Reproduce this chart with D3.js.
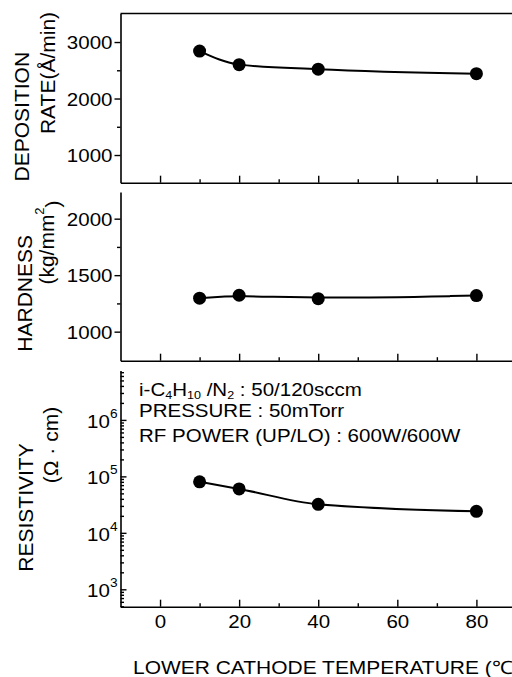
<!DOCTYPE html>
<html><head><meta charset="utf-8">
<script src="https://cdn.jsdelivr.net/npm/d3@7"></script>
<style>
body{margin:0;background:#fff}
svg{display:block}
text{font-family:"Liberation Sans",Arial,Helvetica,sans-serif;fill:#000}
</style>
</head><body>
<svg id="c" width="512" height="677"></svg>
<script>
// ---- data ----
const temps = [10, 20, 40, 80];
const depRate = [2840, 2600, 2520, 2440];
const hardness = [1296, 1322, 1292, 1319];
const resistivity = [8.0e4, 6.0e4, 3.2e4, 2.4e4];
const xTickValues = [0, 20, 40, 60, 80];
const xTickLabels = ["0", "20", "40", "60", "80"];
const xMinorValues = [10, 30, 50, 70];
const depTicks = [1000, 2000, 3000];
const depMinor = [1500, 2500];
const hardTicks = [1000, 1500, 2000];
const hardMinor = [1250, 1750];
const resTicks = [1e3, 1e4, 1e5, 1e6];
const resExp = ["3", "4", "5", "6"];
const notes = ["PRESSURE : 50mTorr", "RF POWER (UP/LO) : 600W/600W"];
const xTitle = "LOWER CATHODE TEMPERATURE (\u2103";

const svg = d3.select("#c");
const K = 1.14; // horizontal stretch of scanned lettering
const FS = 18;

const x = d3.scaleLinear().domain([-10, 89]).range([120.5, 512]);

function stretch(sel, k) {
  sel.each(function () {
    const t = d3.select(this);
    const xv = +t.attr("x") || 0;
    t.attr("x", xv / k).attr("transform", `scale(${k},1)`);
  });
}

function styleAxis(g) {
  g.select(".domain").attr("stroke", "#000").attr("stroke-width", 1.6);
  g.selectAll(".tick line").attr("stroke", "#000").attr("stroke-width", 1.4);
}

function panel(cfg) {
  const g = svg.append("g");
  const y = cfg.y;
  // bottom axis (ticks inward)
  const bx = g.append("g").attr("transform", `translate(0,${cfg.bottom})`)
    .call(d3.axisBottom(x).tickValues(xTickValues).tickSizeInner(-7).tickSizeOuter(0)
      .tickPadding(9).tickFormat((d, i) => cfg.xLabels ? xTickLabels[i] : ""));
  styleAxis(bx);
  bx.selectAll("text").attr("font-size", FS).attr("font-family", "'Liberation Sans',Arial,sans-serif");
  stretch(bx.selectAll("text"), K);
  const bxm = g.append("g").attr("transform", `translate(0,${cfg.bottom})`)
    .call(d3.axisBottom(x).tickValues(xMinorValues).tickSizeInner(-3.5).tickSizeOuter(0).tickFormat(""));
  styleAxis(bxm);
  bxm.select(".domain").remove();

  // left axis
  const ly = g.append("g").attr("transform", `translate(${x.range()[0]},0)`);
  if (cfg.log) {
    ly.call(d3.axisLeft(y).tickValues(resTicks).tickSizeInner(-6).tickSizeOuter(0).tickPadding(3).tickFormat(""));
    ly.selectAll(".tick").each(function (d, i) {
      const t = d3.select(this).append("text").attr("x", -3 / K).attr("dy", "0.42em")
        .attr("text-anchor", "end").attr("font-size", FS).attr("transform", `scale(${K},1)`);
      t.append("tspan").text("10");
      t.append("tspan").attr("font-size", 12).attr("dy", "-0.85em").text(resExp[i]);
    });
    const minor = [];
    for (let e = 2; e <= 6; e++) for (let m = 2; m <= 9; m++) {
      const v = m * Math.pow(10, e);
      if (v >= y.domain()[0] && v <= y.domain()[1]) minor.push(v);
    }
    const lym = g.append("g").attr("transform", `translate(${x.range()[0]},0)`)
      .call(d3.axisLeft(y).tickValues(minor).tickSizeInner(-3.5).tickSizeOuter(0).tickFormat(""));
    styleAxis(lym);
    lym.select(".domain").remove();
  } else {
    ly.call(d3.axisLeft(y).tickValues(cfg.ticks).tickSizeInner(6).tickSizeOuter(0).tickPadding(2).tickFormat(d3.format("d")));
    ly.selectAll("text").attr("font-size", FS).attr("dy", "0.36em");
    stretch(ly.selectAll("text"), K);
    const lym = g.append("g").attr("transform", `translate(${x.range()[0]},0)`)
      .call(d3.axisLeft(y).tickValues(cfg.minor).tickSizeInner(3.5).tickSizeOuter(0).tickFormat(""));
    styleAxis(lym);
    lym.select(".domain").remove();
  }
  styleAxis(ly);

  // curve
  const pts = temps.map((t, i) => [t, cfg.values[i]]);
  g.append("path").datum(pts)
    .attr("fill", "none").attr("stroke", "#000").attr("stroke-width", 2)
    .attr("d", d3.line().x(d => x(d[0])).y(d => y(d[1])).curve(cfg.curve));
  g.selectAll("circle.pt").data(pts).join("circle")
    .attr("cx", d => x(d[0])).attr("cy", d => y(d[1])).attr("r", 6.5).attr("fill", "#000");

  // y titles (rotated)
  cfg.titles.forEach(tt => {
    const t = g.append("text").attr("transform", `translate(${tt.bx},${tt.cy}) rotate(-90)`)
      .attr("text-anchor", "middle").attr("font-size", 21);
    tt.parts.forEach(p => {
      const s = t.append("tspan").text(p.t);
      if (p.sup) s.attr("font-size", 13).attr("dy", "-0.75em");
      if (p.back) s.attr("dy", "0.75em");
    });
  });
  return g;
}

// Panel 1: deposition rate
const y1 = d3.scaleLinear().domain([510, 3505]).range([182.7, 13.5]);
const p1 = panel({
  y: y1, bottom: 182.7, ticks: depTicks, minor: depMinor, values: depRate,
  curve: d3.curveMonotoneX, xLabels: false,
  titles: [
    { bx: 28.5, cy: 116.7, parts: [{ t: "DEPOSITION" }] },
    { bx: 55, cy: 73, parts: [{ t: "RATE(\u00C5/min)" }] }
  ]
});
p1.append("line").attr("x1", 120.5).attr("x2", 512).attr("y1", 13.5).attr("y2", 13.5)
  .attr("stroke", "#000").attr("stroke-width", 1.6);

// Panel 2: hardness
const y2 = d3.scaleLinear().domain([743, 2236]).range([360.7, 192]);
panel({
  y: y2, bottom: 360.7, ticks: hardTicks, minor: hardMinor, values: hardness,
  curve: d3.curveBasis, xLabels: false,
  titles: [
    { bx: 31.5, cy: 293.3, parts: [{ t: "HARDNESS" }] },
    { bx: 54, cy: 242.5, parts: [{ t: "(kg/mm" }, { t: "2", sup: true }, { t: ")", back: true }] }
  ]
});

// Panel 3: resistivity (log)
const y3 = d3.scaleLog().domain([492, 7.5e6]).range([606.7, 370.5]);
const p3 = panel({
  y: y3, bottom: 606.7, log: true, values: resistivity,
  curve: d3.curveMonotoneX, xLabels: true,
  titles: [
    { bx: 33.3, cy: 507.5, parts: [{ t: "RESISTIVITY" }] },
    { bx: 58, cy: 445, parts: [{ t: "(\u03A9 \u00B7 cm)" }] }
  ]
});

// annotation
const a1 = svg.append("text").attr("font-size", FS).attr("transform", `translate(139,396) scale(${K},1)`);
a1.append("tspan").text("i-C");
a1.append("tspan").attr("font-size", 11).attr("dy", 3).text("4");
a1.append("tspan").attr("dy", -3).text("H");
a1.append("tspan").attr("font-size", 11).attr("dy", 3).text("10");
a1.append("tspan").attr("dy", -3).text(" /N");
a1.append("tspan").attr("font-size", 11).attr("dy", 3).text("2");
a1.append("tspan").attr("dy", -3).text(" : 50/120sccm");
const noteY = [416.7, 441.7];
notes.forEach((n, i) => {
  svg.append("text").attr("font-size", FS).attr("transform", `translate(139,${noteY[i]}) scale(${K},1)`).text(n);
});

// x title
svg.append("text").attr("font-size", 18.4).attr("transform", `translate(133,674) scale(1.14,1)`).text(xTitle);
</script>
</body></html>
